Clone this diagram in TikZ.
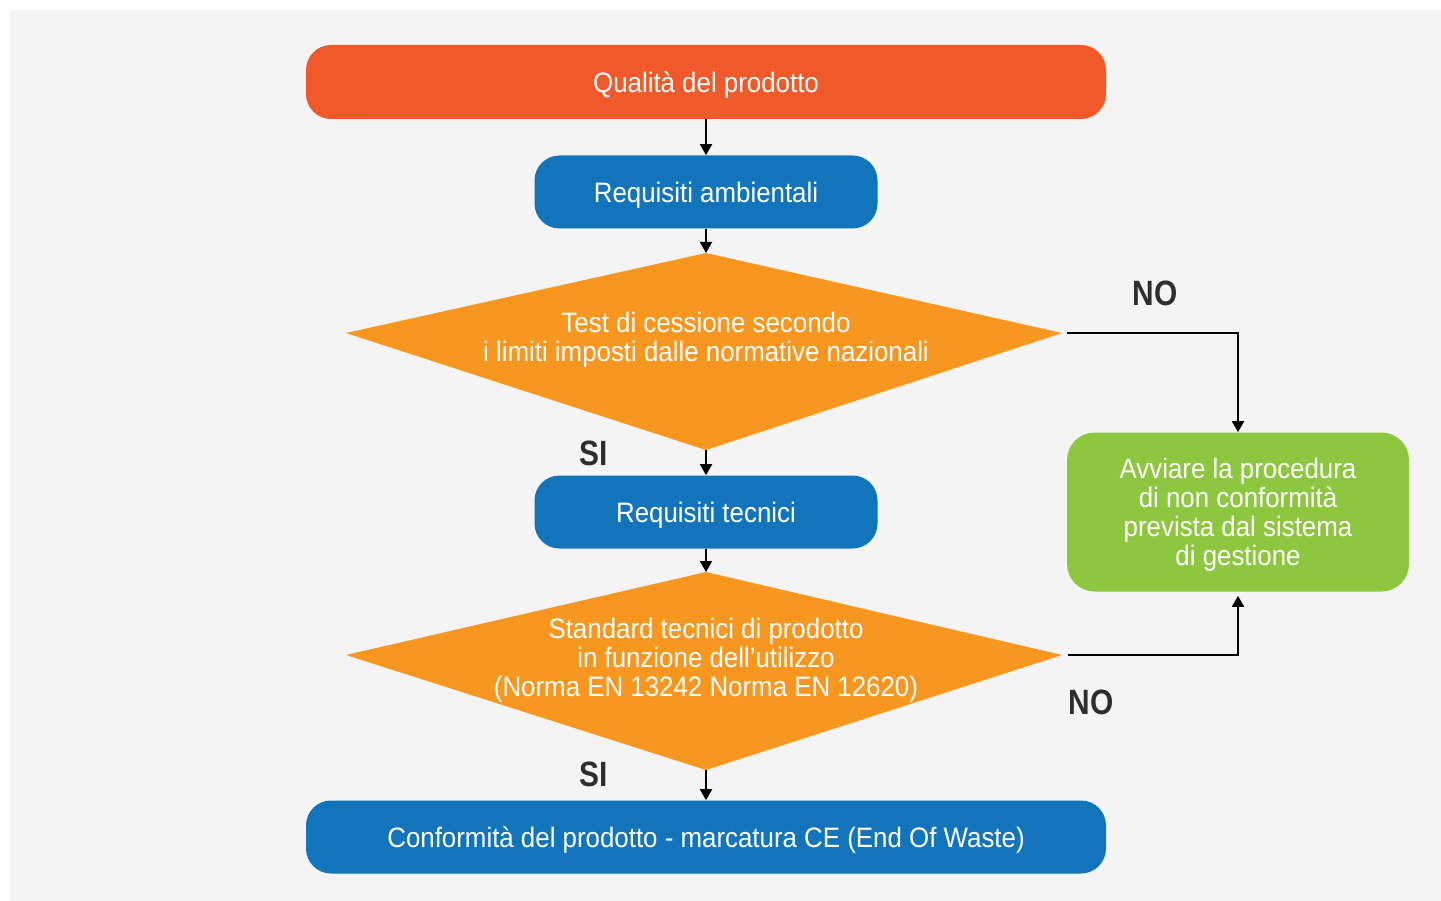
\documentclass[tikz,border=0pt]{standalone}
\usepackage{fontspec}
\setmainfont{Liberation Sans}[FakeStretch=0.92]
\newfontfamily\lblfont{Liberation Sans}[FakeStretch=0.85]
\usetikzlibrary{positioning,arrows.meta,backgrounds}

\definecolor{bggray}{HTML}{F4F4F4}
\definecolor{redorange}{HTML}{F05A2B}
\definecolor{boxblue}{HTML}{1275BB}
\definecolor{kiteorange}{HTML}{F7971F}
\definecolor{boxgreen}{HTML}{8DC63F}
\definecolor{lblgray}{HTML}{2E2E2E}

\begin{document}
\begin{tikzpicture}[box/.style = {rounded corners=0.5cm, text=white, align=center, text depth=0pt, font=\fontsize{16}{16.5}\selectfont},
                    kite/.style = {text=white, align=center, text depth=0pt, font=\fontsize{16}{16.5}\selectfont},
                    lbl/.style = {text=lblgray, font=\lblfont\bfseries\fontsize{20}{22}\selectfont},
                    arr/.style = {line width=1.1pt, -{Triangle[length=0.22cm,width=0.24cm]}}]
                \useasboundingbox (0,0) rectangle (28.82,-18.02);

                \node[box, fill=redorange, minimum width=16cm, minimum height=1.48cm](1) at (14.12,-1.64){Qualità del prodotto};
                \node[box, fill=boxblue, minimum width=6.86cm, minimum height=1.46cm](2)[below of=1, node distance=2.2cm]{Requisiti ambientali};
                \node[kite](3)[below of=2, node distance=2.9cm]{Test di cessione secondo\\ i limiti imposti dalle normative nazionali};
                \node[box, fill=boxblue, minimum width=6.86cm, minimum height=1.46cm](4)[below of=3, node distance=3.5cm]{Requisiti tecnici};
                \node[kite](5)[below of=4, node distance=2.9cm]{Standard tecnici di prodotto\\ in funzione dell'utilizzo\\ (Norma EN 13242 Norma EN 12620)};
                \node[box, fill=boxblue, minimum width=16cm, minimum height=1.46cm](6)[below of=5, node distance=3.6cm]{Conformità del prodotto - marcatura CE (End Of Waste)};
                \node[box, fill=boxgreen, rounded corners=0.55cm, minimum width=6.84cm, minimum height=3.18cm](7)[right of=4, node distance=10.64cm]{Avviare la procedura\\ di non conformità\\ prevista dal sistema\\ di gestione};

                \coordinate (3t) at ([yshift=1.68cm]3.center);
                \coordinate (3l) at ([xshift=-7.2cm,yshift=0.08cm]3.center);
                \coordinate (3r) at ([xshift=7.12cm,yshift=0.08cm]3.center);
                \coordinate (3b) at ([yshift=-2.26cm]3.center);
                \coordinate (5t) at ([yshift=1.7cm]5.center);
                \coordinate (5l) at ([xshift=-7.2cm,yshift=0.04cm]5.center);
                \coordinate (5r) at ([xshift=7.12cm,yshift=0.04cm]5.center);
                \coordinate (5b) at ([yshift=-2.26cm]5.center);

                % backdrop and the two decision shapes
                \begin{scope}[on background layer]
                \fill[bggray] (0.2,-0.2) rectangle (28.82,-18.02);
                \fill[kiteorange] (3t) -- (3r) -- (3b) -- (3l) -- cycle;
                \fill[kiteorange] (5t) -- (5r) -- (5b) -- (5l) -- cycle;
                \end{scope}

                \node[lbl](8) at (23.1,-5.86){NO};
                \node[lbl](9) at (21.82,-14.04){NO};
                \node[lbl](10) at (11.88,-9.06){SI};
                \node[lbl](11) at (11.88,-15.48){SI};

                \draw[arr] (1) -- (2);
                \draw[arr] (2) -- (3t);
                \draw[arr] (3b) -- (4);
                \draw[arr] (4) -- (5t);
                \draw[arr] (5b) -- (6);
                \draw[arr, shorten <=0.1cm] (3r) -| (7);
                \draw[arr, shorten <=0.12cm, shorten >=0.08cm] (5r) -| (7);
            \end{tikzpicture}
\end{document}
